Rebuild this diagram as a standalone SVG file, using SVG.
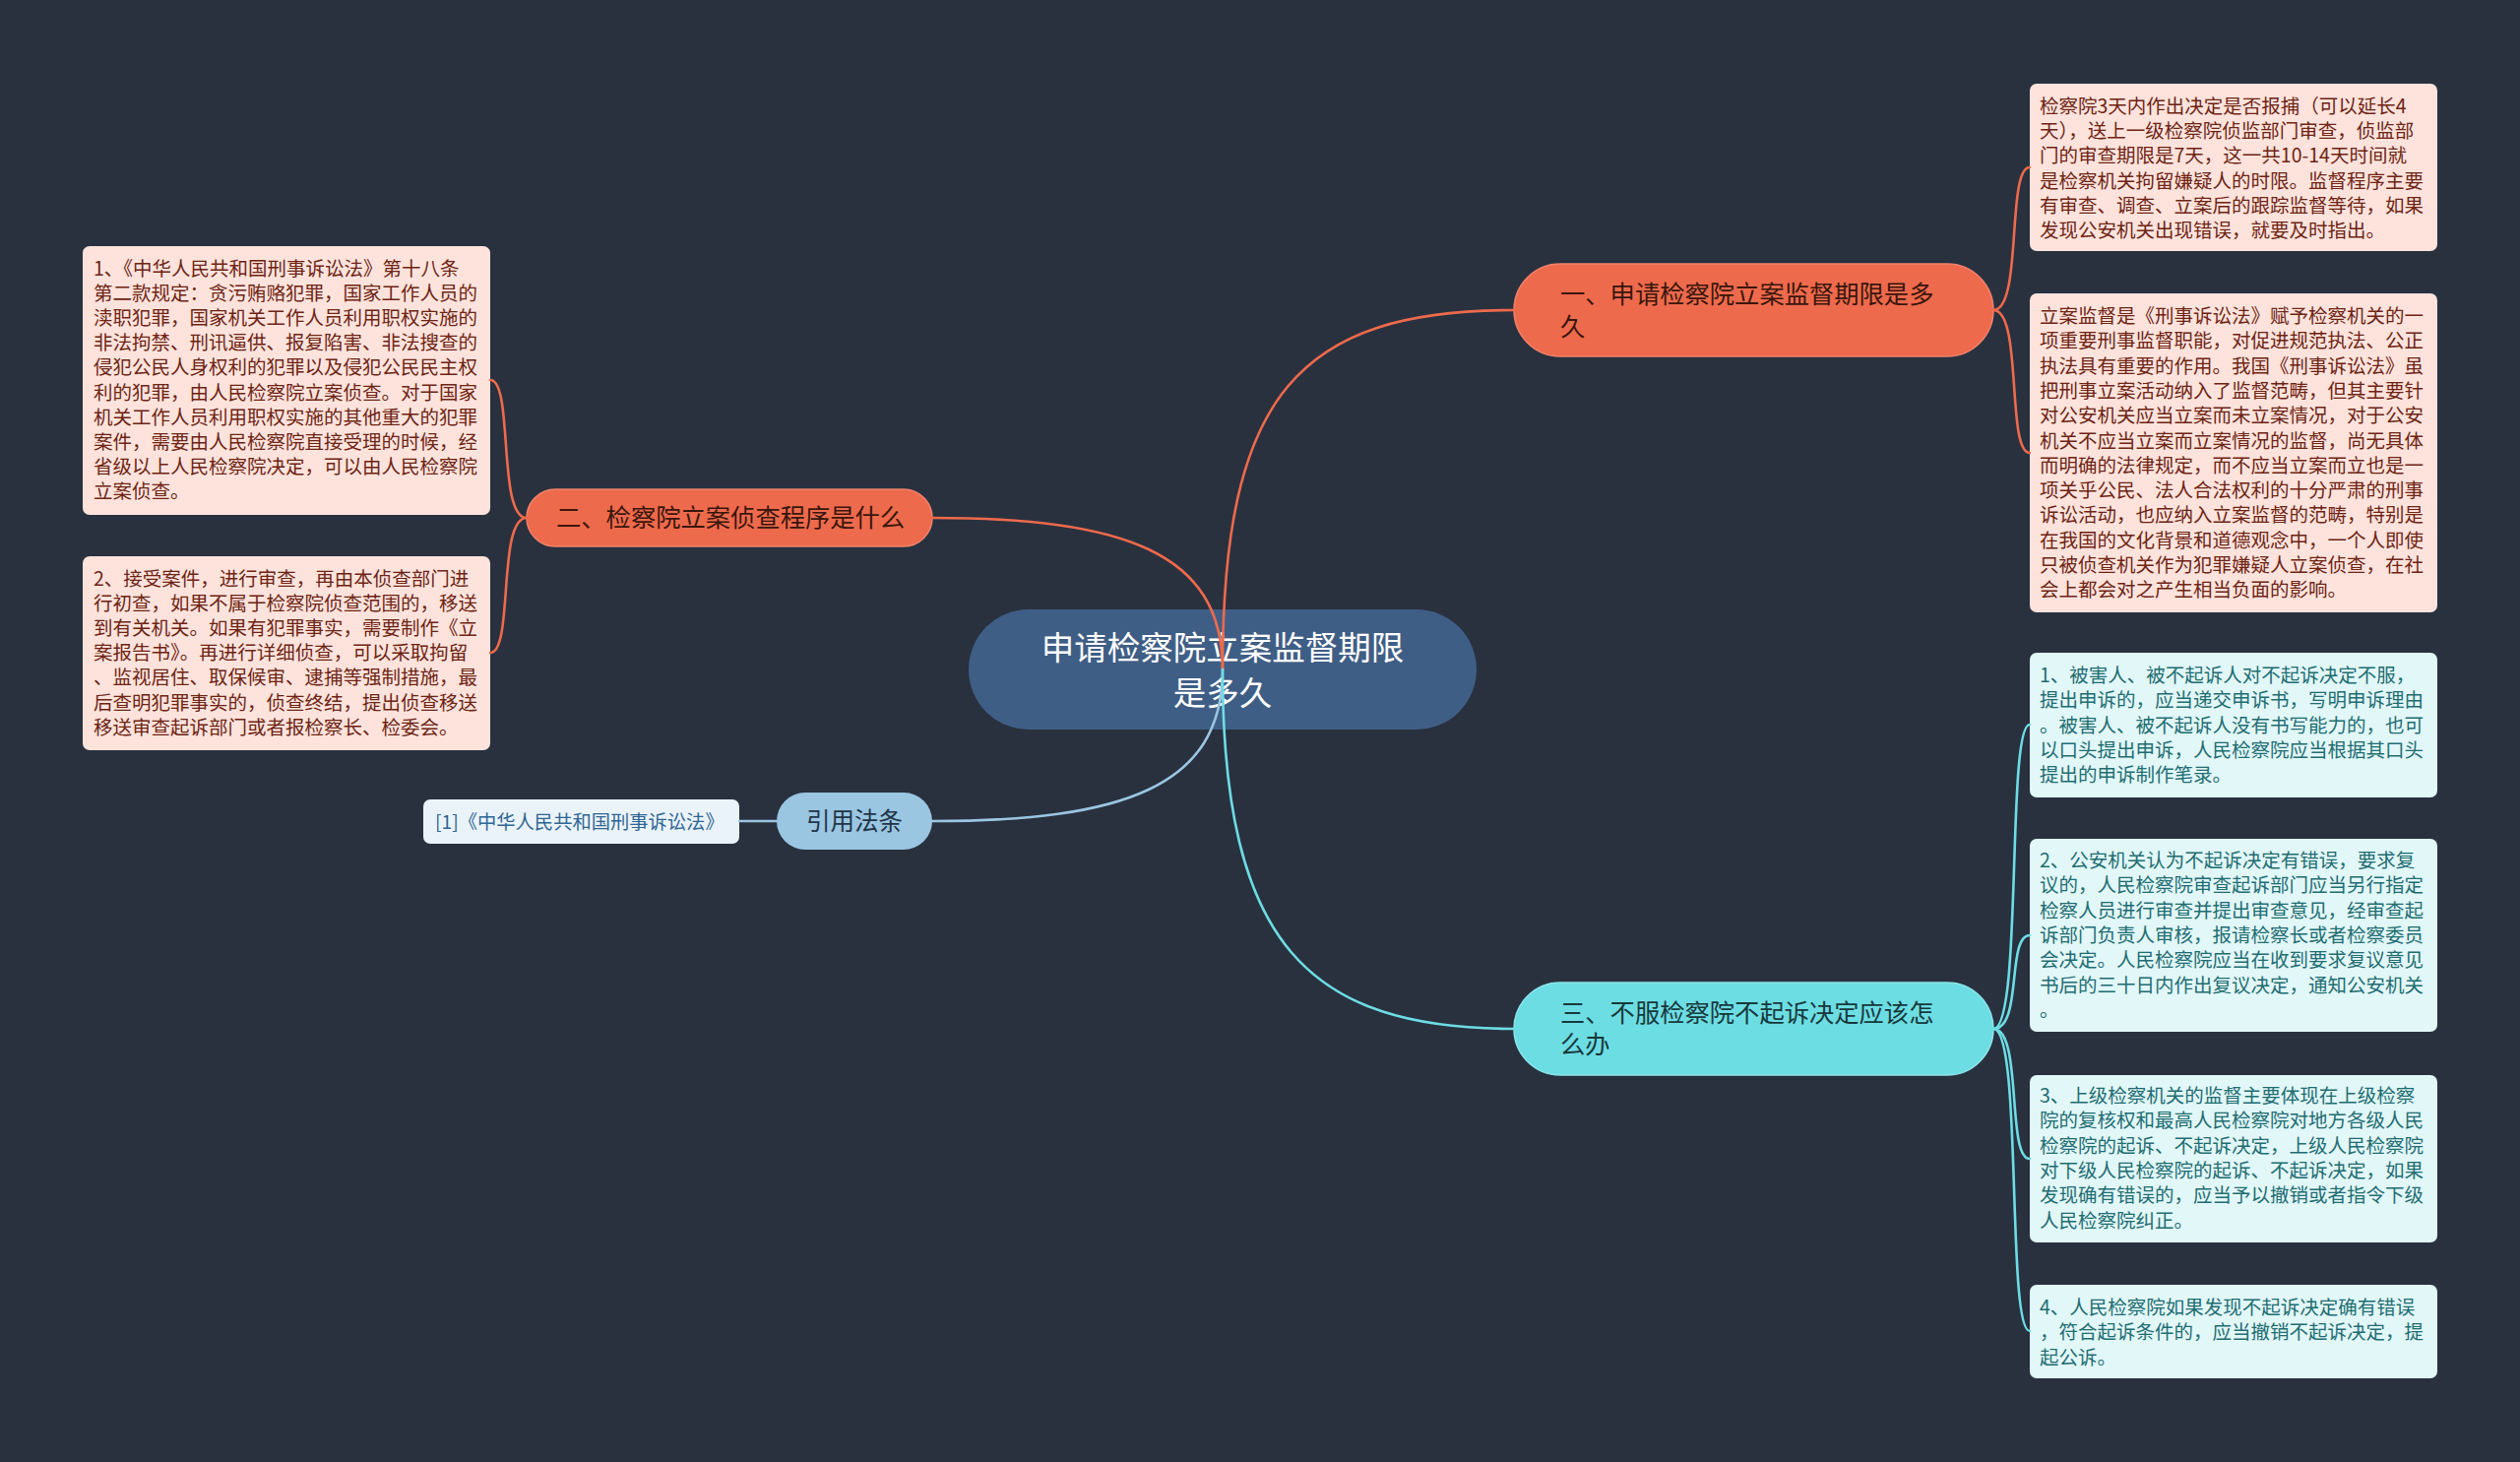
<svg xmlns="http://www.w3.org/2000/svg" width="2560" height="1485" viewBox="0 0 2560 1485">
<style>
text{font-family:"Noto Sans CJK SC","Noto Sans",sans-serif;}
.bg{fill:#29313f;}
.c{fill:none;stroke-width:2.6;stroke-linecap:round;}
.or{stroke:#ee6a4c;}
.cy{stroke:#6ddde4;}
.lb{stroke:#9ac6e2;}
.pk{fill:#fde3dc;}
.pkt{font-size:19.5px;fill:#6e2414;}
.cb{fill:#e1f7f8;}
.cbt{font-size:19.5px;fill:#1f6d72;}
</style>
<rect class="bg" x="0" y="0" width="2560" height="1485"/>
<g id="center">
<rect x="984" y="619" width="516" height="122" rx="61" fill="#3f5e85"/>
<text x="1242" y="670" text-anchor="middle" font-size="33.5" fill="#ffffff">申请检察院立案监督期限</text>
<text x="1242" y="716" text-anchor="middle" font-size="33.5" fill="#ffffff">是多久</text>
</g>
<g id="branch1">
<rect x="1538" y="268" width="487" height="94" rx="47" fill="#ee6a4c" stroke="#f2826a" stroke-width="1.5"/>
<text x="1585" y="308" font-size="25.3" fill="#3a160c">一、申请检察院立案监督期限是多</text>
<text x="1585" y="341" font-size="25.3" fill="#3a160c">久</text>
</g>
<g id="branch2">
<rect x="535" y="497" width="412" height="58" rx="29" fill="#ee6a4c" stroke="#f2826a" stroke-width="1.5"/>
<text x="565" y="535" font-size="25.3" fill="#3a160c">二、检察院立案侦查程序是什么</text>
</g>
<g id="branch3">
<rect x="1538" y="998" width="487" height="94" rx="47" fill="#6ddde4" stroke="#8ae6eb" stroke-width="1.5"/>
<text x="1585" y="1038" font-size="25.3" fill="#17393b">三、不服检察院不起诉决定应该怎</text>
<text x="1585" y="1070" font-size="25.3" fill="#17393b">么办</text>
</g>
<g id="branch4">
<rect x="789" y="805" width="158" height="58" rx="29" fill="#9ac6e2"/>
<text x="868" y="843" text-anchor="middle" font-size="24.5" fill="#213447">引用法条</text>
</g>
<g id="cite">
<rect x="430" y="812" width="321" height="45" rx="7" fill="#eaf3f9"/>
<text x="442" y="842" font-size="19.3" fill="#2f6694">[1]《中华人民共和国刑事诉讼法》</text>
</g>
<g id="r1">
<rect class="pk" x="2062" y="85" width="414" height="170" rx="7"/>
<text class="pkt"><tspan x="2072" y="115">检察院3天内作出决定是否报捕（可以延长4</tspan><tspan x="2072" dy="25.2">天），送上一级检察院侦监部门审查，侦监部</tspan><tspan x="2072" dy="25.2">门的审查期限是7天，这一共10-14天时间就</tspan><tspan x="2072" dy="25.2">是检察机关拘留嫌疑人的时限。监督程序主要</tspan><tspan x="2072" dy="25.2">有审查、调查、立案后的跟踪监督等待，如果</tspan><tspan x="2072" dy="25.2">发现公安机关出现错误，就要及时指出。</tspan></text>
</g>
<g id="r2">
<rect class="pk" x="2062" y="298" width="414" height="324" rx="7"/>
<text class="pkt"><tspan x="2072" y="328">立案监督是《刑事诉讼法》赋予检察机关的一</tspan><tspan x="2072" dy="25.3">项重要刑事监督职能，对促进规范执法、公正</tspan><tspan x="2072" dy="25.3">执法具有重要的作用。我国《刑事诉讼法》虽</tspan><tspan x="2072" dy="25.3">把刑事立案活动纳入了监督范畴，但其主要针</tspan><tspan x="2072" dy="25.3">对公安机关应当立案而未立案情况，对于公安</tspan><tspan x="2072" dy="25.3">机关不应当立案而立案情况的监督，尚无具体</tspan><tspan x="2072" dy="25.3">而明确的法律规定，而不应当立案而立也是一</tspan><tspan x="2072" dy="25.3">项关乎公民、法人合法权利的十分严肃的刑事</tspan><tspan x="2072" dy="25.3">诉讼活动，也应纳入立案监督的范畴，特别是</tspan><tspan x="2072" dy="25.3">在我国的文化背景和道德观念中，一个人即使</tspan><tspan x="2072" dy="25.3">只被侦查机关作为犯罪嫌疑人立案侦查，在社</tspan><tspan x="2072" dy="25.3">会上都会对之产生相当负面的影响。</tspan></text>
</g>
<g id="c1">
<rect class="cb" x="2062" y="663" width="414" height="147" rx="7"/>
<text class="cbt"><tspan x="2072" y="693">1、被害人、被不起诉人对不起诉决定不服，</tspan><tspan x="2072" dy="25.3">提出申诉的，应当递交申诉书，写明申诉理由</tspan><tspan x="2072" dy="25.3">。被害人、被不起诉人没有书写能力的，也可</tspan><tspan x="2072" dy="25.3">以口头提出申诉，人民检察院应当根据其口头</tspan><tspan x="2072" dy="25.3">提出的申诉制作笔录。</tspan></text>
</g>
<g id="c2">
<rect class="cb" x="2062" y="852" width="414" height="196" rx="7"/>
<text class="cbt"><tspan x="2072" y="881">2、公安机关认为不起诉决定有错误，要求复</tspan><tspan x="2072" dy="25.3">议的，人民检察院审查起诉部门应当另行指定</tspan><tspan x="2072" dy="25.3">检察人员进行审查并提出审查意见，经审查起</tspan><tspan x="2072" dy="25.3">诉部门负责人审核，报请检察长或者检察委员</tspan><tspan x="2072" dy="25.3">会决定。人民检察院应当在收到要求复议意见</tspan><tspan x="2072" dy="25.3">书后的三十日内作出复议决定，通知公安机关</tspan><tspan x="2072" dy="25.3">。</tspan></text>
</g>
<g id="c3">
<rect class="cb" x="2062" y="1092" width="414" height="170" rx="7"/>
<text class="cbt"><tspan x="2072" y="1120">3、上级检察机关的监督主要体现在上级检察</tspan><tspan x="2072" dy="25.3">院的复核权和最高人民检察院对地方各级人民</tspan><tspan x="2072" dy="25.3">检察院的起诉、不起诉决定，上级人民检察院</tspan><tspan x="2072" dy="25.3">对下级人民检察院的起诉、不起诉决定，如果</tspan><tspan x="2072" dy="25.3">发现确有错误的，应当予以撤销或者指令下级</tspan><tspan x="2072" dy="25.3">人民检察院纠正。</tspan></text>
</g>
<g id="c4">
<rect class="cb" x="2062" y="1305" width="414" height="95" rx="7"/>
<text class="cbt"><tspan x="2072" y="1335">4、人民检察院如果发现不起诉决定确有错误</tspan><tspan x="2072" dy="25.3">，符合起诉条件的，应当撤销不起诉决定，提</tspan><tspan x="2072" dy="25.3">起公诉。</tspan></text>
</g>
<g id="l1">
<rect class="pk" x="84" y="250" width="414" height="273" rx="7"/>
<text class="pkt"><tspan x="95" y="280">1、《中华人民共和国刑事诉讼法》第十八条</tspan><tspan x="95" dy="25.1">第二款规定：贪污贿赂犯罪，国家工作人员的</tspan><tspan x="95" dy="25.1">渎职犯罪，国家机关工作人员利用职权实施的</tspan><tspan x="95" dy="25.1">非法拘禁、刑讯逼供、报复陷害、非法搜查的</tspan><tspan x="95" dy="25.1">侵犯公民人身权利的犯罪以及侵犯公民民主权</tspan><tspan x="95" dy="25.1">利的犯罪，由人民检察院立案侦查。对于国家</tspan><tspan x="95" dy="25.1">机关工作人员利用职权实施的其他重大的犯罪</tspan><tspan x="95" dy="25.1">案件，需要由人民检察院直接受理的时候，经</tspan><tspan x="95" dy="25.1">省级以上人民检察院决定，可以由人民检察院</tspan><tspan x="95" dy="25.1">立案侦查。</tspan></text>
</g>
<g id="l2">
<rect class="pk" x="84" y="565" width="414" height="197" rx="7"/>
<text class="pkt"><tspan x="95" y="595">2、接受案件，进行审查，再由本侦查部门进</tspan><tspan x="95" dy="25.1">行初查，如果不属于检察院侦查范围的，移送</tspan><tspan x="95" dy="25.1">到有关机关。如果有犯罪事实，需要制作《立</tspan><tspan x="95" dy="25.1">案报告书》。再进行详细侦查，可以采取拘留</tspan><tspan x="95" dy="25.1">、监视居住、取保候审、逮捕等强制措施，最</tspan><tspan x="95" dy="25.1">后查明犯罪事实的，侦查终结，提出侦查移送</tspan><tspan x="95" dy="25.1">移送审查起诉部门或者报检察长、检委会。</tspan></text>
</g>
<g id="connectors">
<path class="c or" d="M1242,680 C1242,400 1320,315 1538,315"/>
<path class="c or" d="M1242,680 C1242,560 1140,526 947,526"/>
<path class="c lb" d="M1242,680 C1242,800 1140,834 947,834"/>
<path class="c cy" d="M1242,680 C1242,960 1330,1045 1538,1045"/>
<path class="c lb" d="M789,834 L751,834"/>
<path class="c or" d="M2025,315 C2055,315 2038,170 2062,170"/>
<path class="c or" d="M2025,315 C2055,315 2038,460 2062,460"/>
<path class="c or" d="M535,526 C505,526 522,386 498,386"/>
<path class="c or" d="M535,526 C505,526 522,663 498,663"/>
<path class="c cy" d="M2025,1045 C2055,1045 2038,736 2062,736"/>
<path class="c cy" d="M2025,1045 C2055,1045 2038,950 2062,950"/>
<path class="c cy" d="M2025,1045 C2055,1045 2038,1177 2062,1177"/>
<path class="c cy" d="M2025,1045 C2055,1045 2038,1352 2062,1352"/>
</g>
</svg>
